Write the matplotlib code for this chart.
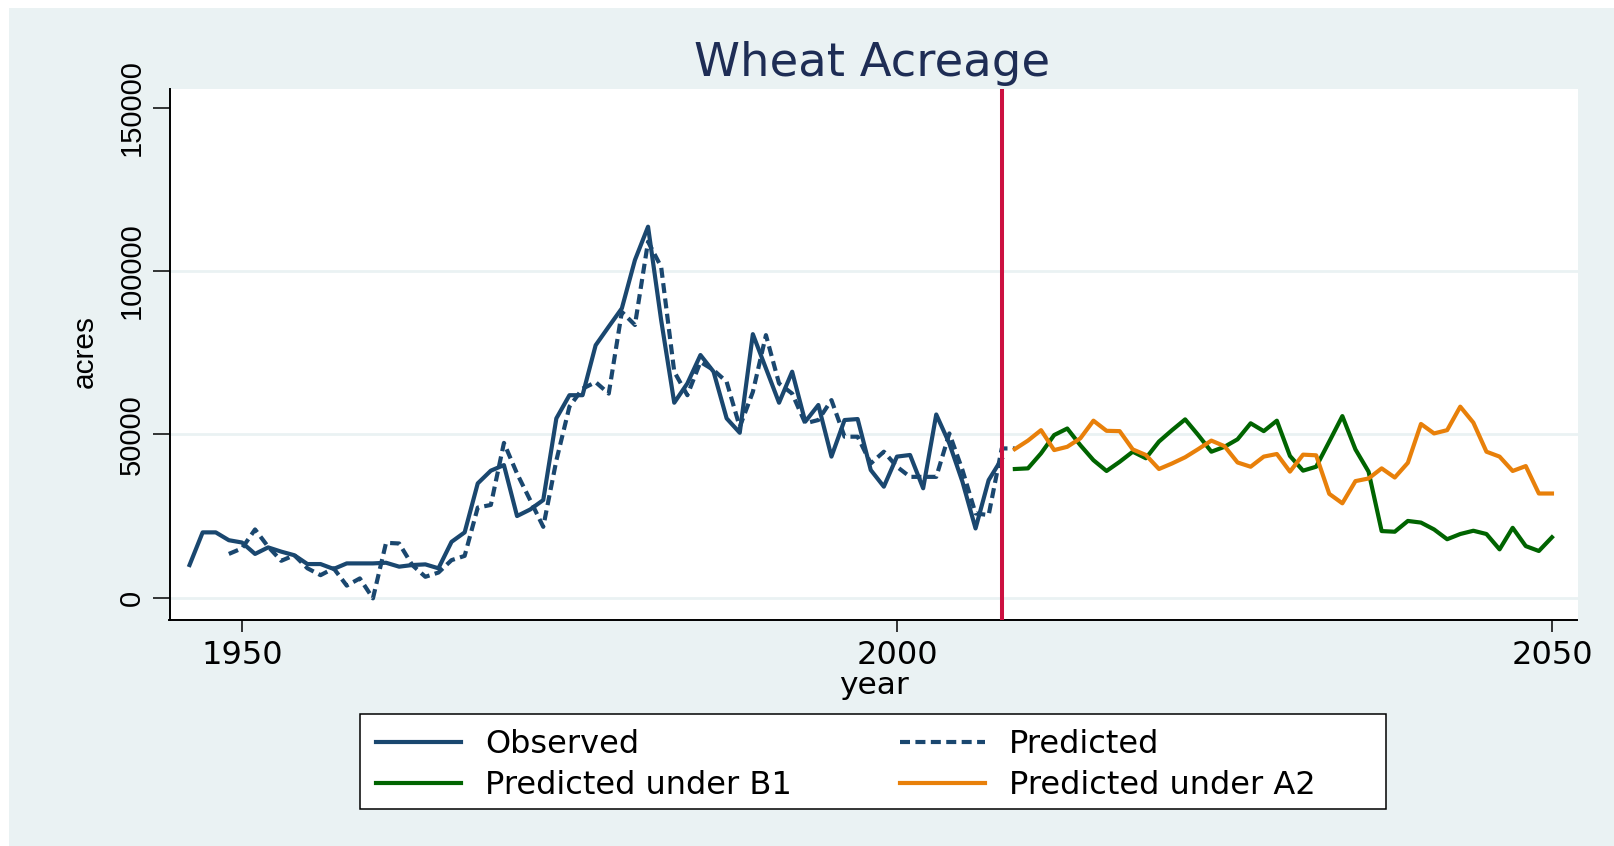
import matplotlib
matplotlib.use("Agg")
import matplotlib.pyplot as plt
from matplotlib.patches import Rectangle
from matplotlib.lines import Line2D

# ---------------- data ----------------
obs_years = list(range(1946, 2009))
observed = [10000, 20000, 20000, 17600, 16900, 13400, 15400, 14100, 13000, 10300,
            10300, 8800, 10500, 10500, 10500, 10700, 9500, 10000, 10200, 9000,
            17100, 20000, 35000, 38900, 40600, 25000, 27000, 29900, 54900, 62000,
            62000, 77300, 83000, 88600, 103400, 113600, 85000, 59700, 65600, 74300,
            69200, 54900, 50500, 80700, 70200, 59700, 69200, 53900, 59000, 43200,
            54400, 54700, 39100, 34000, 43200, 43700, 33500, 56100, 47200, 35500,
            21200, 36000, 42500]

pred_years = list(range(1949, 2010))
predicted = [13400, 15100, 20900, 15600, 11300, 13000, 9000, 6900, 9000, 3700,
             5900, -200, 16800, 16600, 10000, 6400, 7700, 11500, 12800, 27600,
             28400, 47400, 38000, 29900, 21700, 42000, 58500, 64000, 66000, 62500,
             87500, 83500, 109000, 101300, 69200, 62000, 72200, 69700, 66100, 52300,
             63000, 80400, 65600, 62500, 53400, 54400, 60500, 49300, 49300, 41100,
             44700, 40100, 37000, 37000, 37000, 50300, 39100, 25800, 25300, 45700,
             45700]

scen_years = list(range(2009, 2051))
pred_b1 = [39400, 39600, 44200, 49800, 51800, 46700, 42100, 38800, 41600, 44700,
           42700, 47800, 51300, 54600, 49800, 44700, 46200, 48500, 53400, 51000,
           54200, 43400, 38900, 40100, 47800, 55600, 45400, 38600, 20400, 20200,
           23500, 23000, 20900, 17900, 19500, 20500, 19500, 14800, 21400, 15800,
           14300, 18500]
pred_a2 = [45500, 48100, 51300, 45200, 46200, 48800, 54200, 51100, 51000, 45400,
           43700, 39400, 41100, 43000, 45500, 48100, 46400, 41400, 40100, 43200,
           44000, 38600, 43800, 43600, 31800, 28900, 35700, 36500, 39600, 36800,
           41300, 53200, 50300, 51300, 58500, 53600, 44700, 43200, 38800, 40300,
           31900, 31900]

cutoff_year = 2008
x_ticks = [1950, 2000, 2050]
y_ticks = [0, 50000, 100000, 150000]
grid_vals = [0, 50000, 100000]
series_labels = ["Observed", "Predicted", "Predicted under B1", "Predicted under A2"]
title_text = "Wheat Acreage"
xlabel_text = "year"
ylabel_text = "acres"

# ---------------- style ----------------
W, H = 1614, 846
BG = "#EAF2F3"
BLUE = "#1A476F"
GREEN = "#006400"
ORANGE = "#E8800A"
RED = "#CC1040"
TITLE_C = "#1E2D55"
LW = 3.0
HFONT = "DejaVu Sans"
VFONT = "Liberation Sans"

def fx(px):
    return px / W

def fy(py):
    return 1 - py / H

fig = plt.figure(figsize=(W / 100, H / 100), dpi=100)
fig.patch.set_facecolor("white")
fig.patches.append(Rectangle((fx(9), 0), 1 - fx(9), 1 - 8 / H, transform=fig.transFigure,
                             facecolor=BG, edgecolor="none", zorder=-10))

ax = fig.add_axes([fx(169.5), fy(620), (1577.5 - 169.5) / W, (620 - 89) / H])
ax.set_facecolor("white")

for g in grid_vals:
    ax.axhline(g, color=BG, lw=2.0, zorder=0.5)

ax.plot(obs_years, observed, color=BLUE, lw=LW, zorder=3)
ax.plot(pred_years, predicted, color=BLUE, lw=LW, ls=(0, (2.4, 1.3)), zorder=3)
ax.plot(scen_years, pred_b1, color=GREEN, lw=LW, zorder=3)
ax.plot(scen_years, pred_a2, color=ORANGE, lw=LW, zorder=3)
ax.axvline(cutoff_year, color=RED, lw=2.9, zorder=4)

ax.set_xlim(1944.47, 2051.95)
ax.set_ylim(-6830, 155760)
ax.set_xticks(x_ticks)
ax.set_yticks(y_ticks)
ax.set_xticklabels([str(t) for t in x_ticks], fontfamily=HFONT, fontsize=23)
ax.set_yticklabels([str(t) for t in y_ticks], fontfamily=VFONT, fontsize=21,
                   rotation=90, va="center")
ax.tick_params(axis="x", length=8.6, width=1.1, pad=6, colors="black")
ax.tick_params(axis="y", length=12.2, width=1.1, pad=5, colors="black")
for s in ["top", "right"]:
    ax.spines[s].set_visible(False)
for s in ["left", "bottom"]:
    ax.spines[s].set_linewidth(1.4)
    ax.spines[s].set_color("black")

ax.set_xlabel(xlabel_text, fontfamily=HFONT, fontsize=22.5, va="center")
ax.xaxis.set_label_coords(0.5, (620 - 685) / 531)
ax.set_ylabel(ylabel_text, fontfamily=VFONT, fontsize=21.5, va="center", ha="center")
ax.yaxis.set_label_coords((85 - 169.5) / 1408, (620 - 351) / 531)

fig.text(fx(872), fy(64), title_text, fontfamily=HFONT, fontsize=33.5, color=TITLE_C,
         ha="center", va="center")

# legend box
fig.patches.append(Rectangle((fx(360), fy(809)), (1386 - 360) / W, (809 - 714) / H,
                             transform=fig.transFigure, facecolor="white",
                             edgecolor="black", lw=1.1, zorder=5))
handles = [Line2D([], [], color=BLUE, lw=LW),
           Line2D([], [], color=GREEN, lw=LW),
           Line2D([], [], color=BLUE, lw=LW, ls=(0, (2.4, 1.3))),
           Line2D([], [], color=ORANGE, lw=LW)]
labels = [series_labels[0], series_labels[2], series_labels[1], series_labels[3]]
leg = fig.legend(handles, labels, loc="center left",
                 bbox_to_anchor=(fx(376), fy(765)), ncol=2, frameon=False,
                 prop={"family": HFONT, "size": 23}, handlelength=2.66,
                 handletextpad=0.75, columnspacing=3.4, labelspacing=0.3,
                 borderpad=0, borderaxespad=0)
leg.set_zorder(6)

fig.savefig("out.png", dpi=100, facecolor=fig.get_facecolor())
